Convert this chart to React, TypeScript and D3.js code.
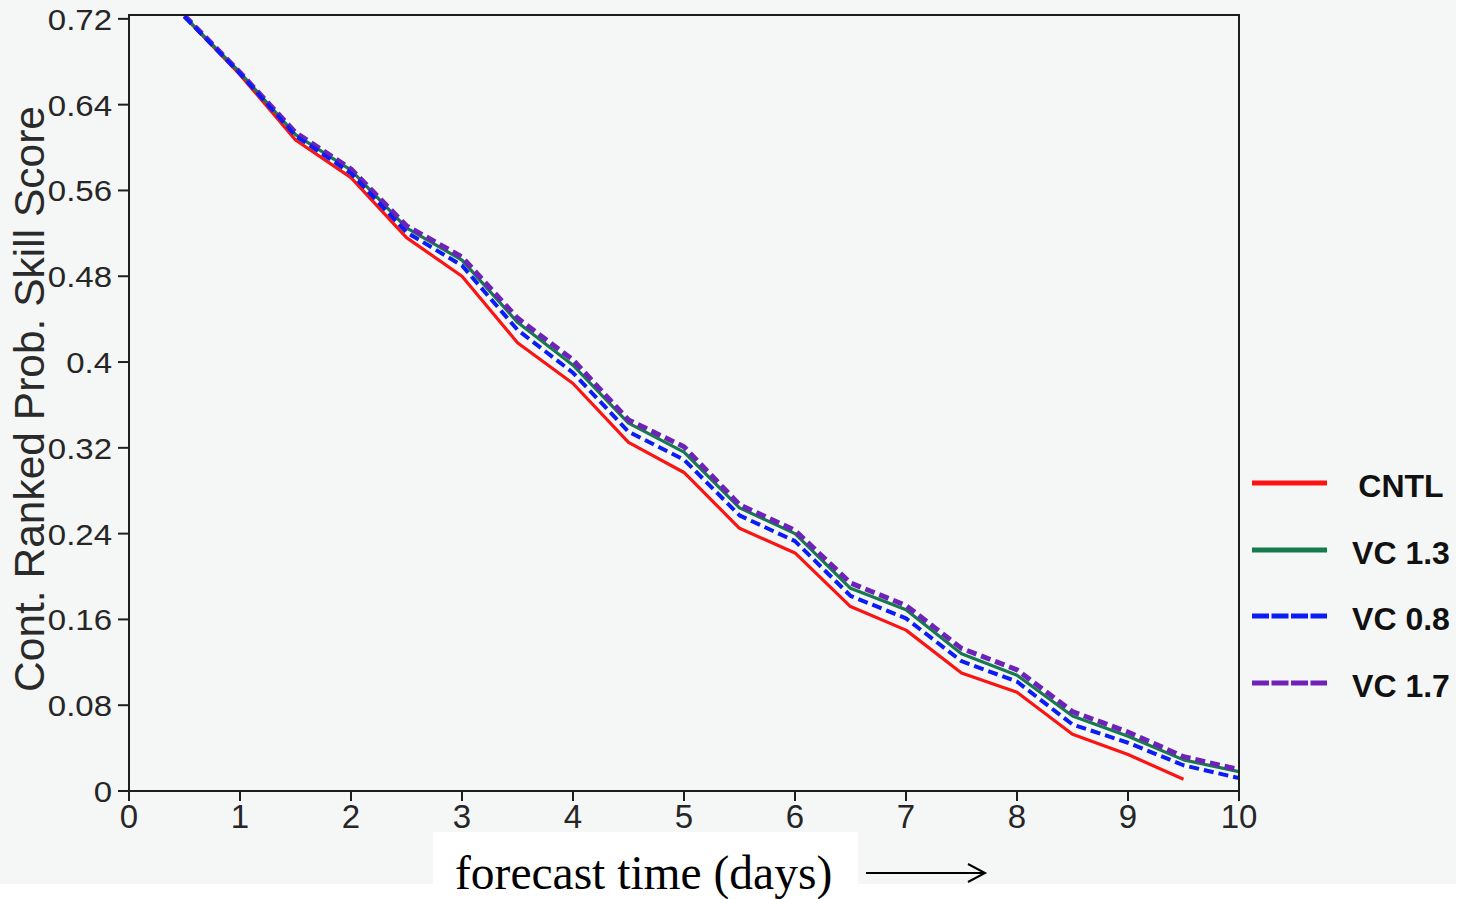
import React from "react";
import * as d3 from "d3";

const days = [0.5, 1, 1.5, 2, 2.5, 3, 3.5, 4, 4.5, 5, 5.5, 6, 6.5, 7, 7.5, 8, 8.5, 9, 9.5, 10];
const cntl = [0.722, 0.668, 0.607, 0.572, 0.516, 0.48, 0.418, 0.38, 0.325, 0.297, 0.245, 0.222, 0.172, 0.15, 0.11, 0.092, 0.053, 0.034, 0.011];
const vc13 = [0.722, 0.67, 0.612, 0.579, 0.525, 0.495, 0.437, 0.397, 0.343, 0.316, 0.264, 0.24, 0.189, 0.169, 0.128, 0.108, 0.07, 0.051, 0.029, 0.018];
const vc08 = [0.722, 0.669, 0.611, 0.576, 0.521, 0.49, 0.43, 0.39, 0.335, 0.309, 0.257, 0.233, 0.182, 0.161, 0.121, 0.102, 0.062, 0.045, 0.024, 0.012];
const vc17 = [0.723, 0.67, 0.614, 0.58, 0.527, 0.498, 0.441, 0.402, 0.346, 0.321, 0.267, 0.243, 0.194, 0.173, 0.133, 0.113, 0.074, 0.055, 0.032, 0.02];

const yTickValues = [0, 0.08, 0.16, 0.24, 0.32, 0.4, 0.48, 0.56, 0.64, 0.72];
const yTickLabels = ["0", "0.08", "0.16", "0.24", "0.32", "0.4", "0.48", "0.56", "0.64", "0.72"];
const xTickValues = [0, 1, 2, 3, 4, 5, 6, 7, 8, 9, 10];

const seriesNames = ["CNTL", "VC 1.3", "VC 0.8", "VC 1.7"];
const seriesColors = ["#fa1414", "#157a4c", "#0c1cf4", "#6e22b8"];

const W = 1468;
const H = 899;
const left = 129, right = 1239, top = 15, bottom = 791;

export default function App() {
  const x = d3.scaleLinear().domain([0, 10]).range([left, right]);
  const y = d3.scaleLinear().domain([0, 0.7236]).range([bottom, top]);
  const line = d3
    .line<[number, number]>()
    .x((d) => x(d[0]))
    .y((d) => y(d[1]));
  const mk = (vals: number[]) => vals.map((v, i) => [days[i], v] as [number, number]);

  const series = [
    { name: seriesNames[0], data: mk(cntl), color: seriesColors[0], width: 3.2, dash: undefined as string | undefined, legendDash: undefined as string | undefined },
    { name: seriesNames[1], data: mk(vc13), color: seriesColors[1], width: 3.2, dash: undefined, legendDash: undefined },
    { name: seriesNames[2], data: mk(vc08), color: seriesColors[2], width: 4, dash: "10 5", legendDash: "17 2.5" },
    { name: seriesNames[3], data: mk(vc17), color: seriesColors[3], width: 5, dash: "10 5", legendDash: "17 2.5" },
  ];
  const drawOrder = [0, 1, 3, 2];
  const legendY = [483, 550, 616, 683];
  const axisColor = "#1e1e1e";
  const textColor = "#262626";
  const sans = "'Liberation Sans', Arial, Helvetica, sans-serif";

  return (
    <svg
      width={W}
      height={H}
      style={{ position: "absolute", left: 0, top: 0, display: "block" }}
      xmlns="http://www.w3.org/2000/svg"
    >
      <defs>
        <clipPath id="plotClip">
          <rect x={left} y={top} width={right - left} height={bottom - top} />
        </clipPath>
      </defs>
      <rect x={0} y={0} width={W} height={H} fill="#ffffff" />
      <rect x={0} y={0} width={1456} height={884} fill="#f5f7f6" />
      <rect x={433} y={832} width={425} height={67} fill="#ffffff" />

      <g clipPath="url(#plotClip)">
        {drawOrder.map((i) => {
          const s = series[i];
          return (
            <path
              key={s.name}
              d={line(s.data) || ""}
              fill="none"
              stroke={s.color}
              strokeWidth={s.width}
              strokeDasharray={s.dash}
              strokeLinejoin="round"
            />
          );
        })}
      </g>

      <rect x={left} y={top} width={right - left} height={bottom - top} fill="none" stroke={axisColor} strokeWidth={2} />

      {yTickValues.map((v, i) => (
        <g key={"y" + i}>
          <line x1={left - 11} x2={left} y1={y(v)} y2={y(v)} stroke={axisColor} strokeWidth={2} />
          <text
            transform={`translate(112, ${y(v) + 11}) scale(1.1,1)`}
            textAnchor="end"
            fontFamily={sans}
            fontSize={30}
            fill={textColor}
          >
            {yTickLabels[i]}
          </text>
        </g>
      ))}

      {xTickValues.map((v) => (
        <g key={"x" + v}>
          <line x1={x(v)} x2={x(v)} y1={bottom} y2={bottom + 10} stroke={axisColor} strokeWidth={2} />
          <text x={x(v)} y={828} textAnchor="middle" fontFamily={sans} fontSize={33} fill={textColor}>
            {String(v)}
          </text>
        </g>
      ))}

      <text
        transform="translate(44, 399) rotate(-90)"
        textAnchor="middle"
        fontFamily={sans}
        fontSize={42.5}
        fill="#2a2a2a"
      >
        Cont. Ranked Prob. Skill Score
      </text>

      <text x={455} y={889} fontFamily="'Liberation Serif', 'Times New Roman', serif" fontSize={47.5} fill="#000">
        forecast time (days)
      </text>
      <line x1={866} x2={984} y1={873} y2={873} stroke="#000" strokeWidth={2} />
      <path d="M 968 864 L 985 873 L 968 882" fill="none" stroke="#000" strokeWidth={2} />

      {series.map((s, i) => (
        <g key={"lg" + i}>
          <line
            x1={1252}
            x2={1327}
            y1={legendY[i]}
            y2={legendY[i]}
            stroke={s.color}
            strokeWidth={5}
            strokeDasharray={s.legendDash}
          />
          <text
            x={1401}
            y={legendY[i] + 14}
            textAnchor="middle"
            fontFamily={sans}
            fontWeight="bold"
            fontSize={32}
            fill="#111"
          >
            {s.name}
          </text>
        </g>
      ))}
    </svg>
  );
}
